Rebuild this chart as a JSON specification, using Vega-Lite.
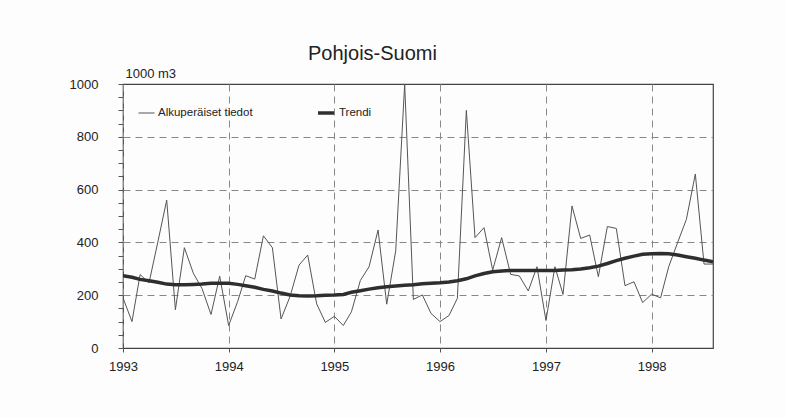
{
  "$schema": "https://vega.github.io/schema/vega-lite/v6.json",
  "width": 590,
  "height": 264,
  "autosize": {"type": "none"},
  "padding": {"left": 123, "top": 84, "right": 73, "bottom": 70},
  "background": "#fdfdfd",
  "title": {"text": "Pohjois-Suomi", "anchor": "start", "frame": "group", "dx": 185, "offset": -13, "baseline": "alphabetic", "fontSize": 20, "font": "Liberation Sans", "fontWeight": "normal", "color": "#222222"},
  "data": {"values": [
    {"kk": "1993-01-01", "Alkuperäiset tiedot": 190, "Trendi": 274},
    {"kk": "1993-02-01", "Alkuperäiset tiedot": 100, "Trendi": 268},
    {"kk": "1993-03-01", "Alkuperäiset tiedot": 278, "Trendi": 260},
    {"kk": "1993-04-01", "Alkuperäiset tiedot": 247, "Trendi": 255},
    {"kk": "1993-05-01", "Alkuperäiset tiedot": 400, "Trendi": 249},
    {"kk": "1993-06-01", "Alkuperäiset tiedot": 560, "Trendi": 242},
    {"kk": "1993-07-01", "Alkuperäiset tiedot": 145, "Trendi": 240},
    {"kk": "1993-08-01", "Alkuperäiset tiedot": 380, "Trendi": 240},
    {"kk": "1993-09-01", "Alkuperäiset tiedot": 283, "Trendi": 241},
    {"kk": "1993-10-01", "Alkuperäiset tiedot": 225, "Trendi": 242},
    {"kk": "1993-11-01", "Alkuperäiset tiedot": 127, "Trendi": 245},
    {"kk": "1993-12-01", "Alkuperäiset tiedot": 272, "Trendi": 245},
    {"kk": "1994-01-01", "Alkuperäiset tiedot": 85, "Trendi": 245},
    {"kk": "1994-02-01", "Alkuperäiset tiedot": 176, "Trendi": 241},
    {"kk": "1994-03-01", "Alkuperäiset tiedot": 274, "Trendi": 236},
    {"kk": "1994-04-01", "Alkuperäiset tiedot": 261, "Trendi": 230},
    {"kk": "1994-05-01", "Alkuperäiset tiedot": 425, "Trendi": 222},
    {"kk": "1994-06-01", "Alkuperäiset tiedot": 380, "Trendi": 216},
    {"kk": "1994-07-01", "Alkuperäiset tiedot": 110, "Trendi": 208},
    {"kk": "1994-08-01", "Alkuperäiset tiedot": 195, "Trendi": 201},
    {"kk": "1994-09-01", "Alkuperäiset tiedot": 314, "Trendi": 198},
    {"kk": "1994-10-01", "Alkuperäiset tiedot": 352, "Trendi": 197},
    {"kk": "1994-11-01", "Alkuperäiset tiedot": 167, "Trendi": 198},
    {"kk": "1994-12-01", "Alkuperäiset tiedot": 97, "Trendi": 200},
    {"kk": "1995-01-01", "Alkuperäiset tiedot": 120, "Trendi": 201},
    {"kk": "1995-02-01", "Alkuperäiset tiedot": 85, "Trendi": 203},
    {"kk": "1995-03-01", "Alkuperäiset tiedot": 137, "Trendi": 211},
    {"kk": "1995-04-01", "Alkuperäiset tiedot": 256, "Trendi": 217},
    {"kk": "1995-05-01", "Alkuperäiset tiedot": 308, "Trendi": 223},
    {"kk": "1995-06-01", "Alkuperäiset tiedot": 447, "Trendi": 228},
    {"kk": "1995-07-01", "Alkuperäiset tiedot": 166, "Trendi": 232},
    {"kk": "1995-08-01", "Alkuperäiset tiedot": 368, "Trendi": 235},
    {"kk": "1995-09-01", "Alkuperäiset tiedot": 1000, "Trendi": 238},
    {"kk": "1995-10-01", "Alkuperäiset tiedot": 184, "Trendi": 240},
    {"kk": "1995-11-01", "Alkuperäiset tiedot": 201, "Trendi": 243},
    {"kk": "1995-12-01", "Alkuperäiset tiedot": 131, "Trendi": 245},
    {"kk": "1996-01-01", "Alkuperäiset tiedot": 100, "Trendi": 247},
    {"kk": "1996-02-01", "Alkuperäiset tiedot": 123, "Trendi": 250},
    {"kk": "1996-03-01", "Alkuperäiset tiedot": 188, "Trendi": 255},
    {"kk": "1996-04-01", "Alkuperäiset tiedot": 900, "Trendi": 262},
    {"kk": "1996-05-01", "Alkuperäiset tiedot": 418, "Trendi": 273},
    {"kk": "1996-06-01", "Alkuperäiset tiedot": 456, "Trendi": 282},
    {"kk": "1996-07-01", "Alkuperäiset tiedot": 295, "Trendi": 289},
    {"kk": "1996-08-01", "Alkuperäiset tiedot": 418, "Trendi": 292},
    {"kk": "1996-09-01", "Alkuperäiset tiedot": 279, "Trendi": 294},
    {"kk": "1996-10-01", "Alkuperäiset tiedot": 273, "Trendi": 294},
    {"kk": "1996-11-01", "Alkuperäiset tiedot": 216, "Trendi": 294},
    {"kk": "1996-12-01", "Alkuperäiset tiedot": 308, "Trendi": 294},
    {"kk": "1997-01-01", "Alkuperäiset tiedot": 104, "Trendi": 294},
    {"kk": "1997-02-01", "Alkuperäiset tiedot": 308, "Trendi": 294},
    {"kk": "1997-03-01", "Alkuperäiset tiedot": 203, "Trendi": 295},
    {"kk": "1997-04-01", "Alkuperäiset tiedot": 538, "Trendi": 296},
    {"kk": "1997-05-01", "Alkuperäiset tiedot": 415, "Trendi": 299},
    {"kk": "1997-06-01", "Alkuperäiset tiedot": 428, "Trendi": 304},
    {"kk": "1997-07-01", "Alkuperäiset tiedot": 270, "Trendi": 310},
    {"kk": "1997-08-01", "Alkuperäiset tiedot": 460, "Trendi": 320},
    {"kk": "1997-09-01", "Alkuperäiset tiedot": 453, "Trendi": 331},
    {"kk": "1997-10-01", "Alkuperäiset tiedot": 236, "Trendi": 340},
    {"kk": "1997-11-01", "Alkuperäiset tiedot": 251, "Trendi": 348},
    {"kk": "1997-12-01", "Alkuperäiset tiedot": 172, "Trendi": 355},
    {"kk": "1998-01-01", "Alkuperäiset tiedot": 204, "Trendi": 357},
    {"kk": "1998-02-01", "Alkuperäiset tiedot": 190, "Trendi": 358},
    {"kk": "1998-03-01", "Alkuperäiset tiedot": 308, "Trendi": 357},
    {"kk": "1998-04-01", "Alkuperäiset tiedot": 400, "Trendi": 352},
    {"kk": "1998-05-01", "Alkuperäiset tiedot": 487, "Trendi": 346},
    {"kk": "1998-06-01", "Alkuperäiset tiedot": 659, "Trendi": 340},
    {"kk": "1998-07-01", "Alkuperäiset tiedot": 318, "Trendi": 333},
    {"kk": "1998-08-01", "Alkuperäiset tiedot": 318, "Trendi": 327}
  ]},
  "transform": [{"fold": ["Alkuperäiset tiedot", "Trendi"], "as": ["sarja", "arvo"]}],
  "mark": {"type": "line", "clip": true},
  "encoding": {
    "x": {
      "field": "kk", "type": "temporal",
      "scale": {"type": "utc", "domain": [{"year": 1993, "month": 1, "date": 1, "utc": true}, {"year": 1998, "month": 8, "date": 1, "utc": true}]},
      "axis": {"title": null, "format": "%Y", "tickCount": {"interval": "year", "step": 1}, "grid": true, "gridDash": [7, 5], "gridColor": "#888888", "gridWidth": 1, "tickSize": 4, "labelPadding": 8, "labelFontSize": 13, "labelFlush": false, "domain": false, "tickColor": "#555555", "labelColor": "#222222", "labelFont": "Liberation Sans"}
    },
    "y": {
      "field": "arvo", "type": "quantitative",
      "scale": {"domain": [0, 1000], "nice": false},
      "axis": {
        "title": "1000 m3", "titleAngle": 0, "titleX": 2, "titleY": -7, "titleAlign": "left", "titleBaseline": "alphabetic", "titleFontSize": 13, "titleFontWeight": "normal", "titleColor": "#222222", "titleFont": "Liberation Sans",
        "values": [0, 50, 100, 150, 200, 250, 300, 350, 400, 450, 500, 550, 600, 650, 700, 750, 800, 850, 900, 950, 1000],
        "labelExpr": "datum.value % 200 === 0 ? datum.label : ''",
        "format": "d",
        "grid": true, "gridDash": [7, 5], "gridColor": "#888888",
        "gridOpacity": {"condition": {"test": "datum.value % 200 === 0 && datum.value > 0 && datum.value < 1000", "value": 1}, "value": 0},
        "tickSize": 5, "tickColor": "#555555", "labelPadding": 20, "labelFontSize": 13, "labelColor": "#222222", "labelFont": "Liberation Sans", "domain": false
      }
    },
    "color": {
      "field": "sarja", "type": "nominal",
      "scale": {"range": ["#555555", "#2e2e2e"]},
      "legend": {"orient": "none", "legendX": 15, "legendY": 19, "direction": "horizontal", "title": null, "symbolType": "stroke", "symbolSize": 256, "labelFontSize": 11.5, "labelFont": "Liberation Sans", "labelColor": "#222222", "columnPadding": 58, "labelOffset": 3, "padding": 0}
    },
    "strokeWidth": {
      "field": "sarja", "type": "nominal",
      "scale": {"range": [1, 3.5]}
    }
  },
  "config": {
    "view": {"stroke": "#444444", "strokeWidth": 1.2}
  }
}
